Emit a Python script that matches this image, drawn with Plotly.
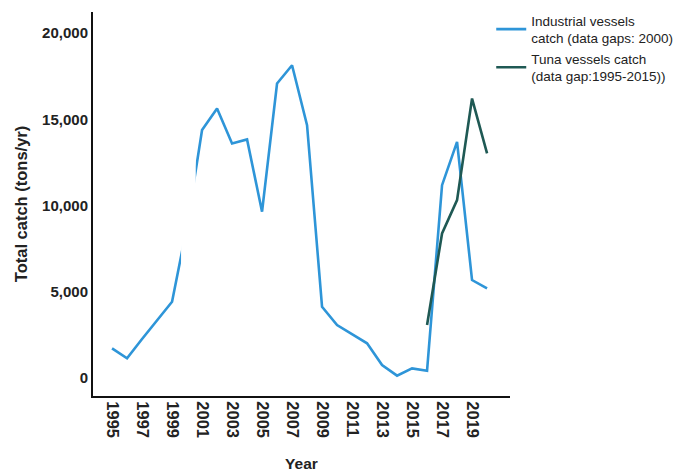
import plotly.graph_objects as go

# Annual catch series
years = list(range(1995, 2021))
industrial_catch = [1720, 1140, 2260, 3360, 4420, 8800, 14370, 15620, 13600, 13830,
                    9640, 17070, 18130, 14660, 4130, 3070, 2550, 2010, 750, 135,
                    560, 425, 11180, 13690, 5680, 5200]
tuna_years = [2016, 2017, 2018, 2019, 2020]
tuna_catch = [3070, 8380, 10310, 16200, 13020]

x_tick_years = list(range(1995, 2020, 2))
y_tick_values = [0, 5000, 10000, 15000, 20000]
y_tick_labels = ["0", "5,000", "10,000", "15,000", "20,000"]

# Year with missing industrial data, blanked out along the line
gap_year = 2000

BLUE = "#2e95d8"
DARK = "#1f5954"
FONT = "Liberation Sans"
TEXT = "#222222"

fig = go.Figure()
fig.add_trace(go.Scatter(
    x=years, y=industrial_catch, mode="lines",
    name="Industrial vessels<br>catch (data gaps: 2000)",
    line=dict(color=BLUE, width=2.6),
))
fig.add_trace(go.Scatter(
    x=tuna_years, y=tuna_catch, mode="lines",
    name="Tuna vessels catch<br>(data gap:1995-2015))",
    line=dict(color=DARK, width=2.6),
))

fig.add_shape(
    type="rect", xref="x", yref="y",
    x0=gap_year - 0.4, x1=gap_year + 0.58, y0=-500, y1=21000,
    fillcolor="white", line=dict(width=0), layer="above",
)

fig.update_layout(
    width=686, height=474,
    margin=dict(l=93, r=176, t=12, b=78, autoexpand=False),
    paper_bgcolor="white", plot_bgcolor="white",
    font=dict(family=FONT, color=TEXT),
    showlegend=True,
    legend=dict(
        x=0.955, xanchor="left", y=1.018, yanchor="top",
        font=dict(family=FONT, size=13.5, color=TEXT),
        itemwidth=30, tracegroupgap=0,
        bgcolor="rgba(0,0,0,0)",
    ),
    xaxis=dict(
        range=[1993.73, 2021.53],
        tickmode="array", tickvals=x_tick_years,
        ticktext=[str(y) for y in x_tick_years],
        tickangle=90,
        tickfont=dict(family=FONT, size=16.5, color=TEXT, weight="bold"),
        showgrid=False, zeroline=False,
        showline=True, linecolor="#111111", linewidth=2,
        ticks="", ticklen=0,
        title=dict(text="<b>Year</b>", font=dict(family=FONT, size=15.5, color=TEXT), standoff=21),
    ),
    yaxis=dict(
        range=[-1043, 21217],
        tickmode="array", tickvals=y_tick_values, ticktext=y_tick_labels,
        tickfont=dict(family=FONT, size=15, color=TEXT, weight="bold"),
        showgrid=False, zeroline=False,
        showline=True, linecolor="#111111", linewidth=2,
        ticks="", ticklen=0,
        title=dict(text="<b>Total catch (tons/yr)</b>", font=dict(family=FONT, size=16.5, color=TEXT), standoff=10),
    ),
)

fig.write_html("out.html")
